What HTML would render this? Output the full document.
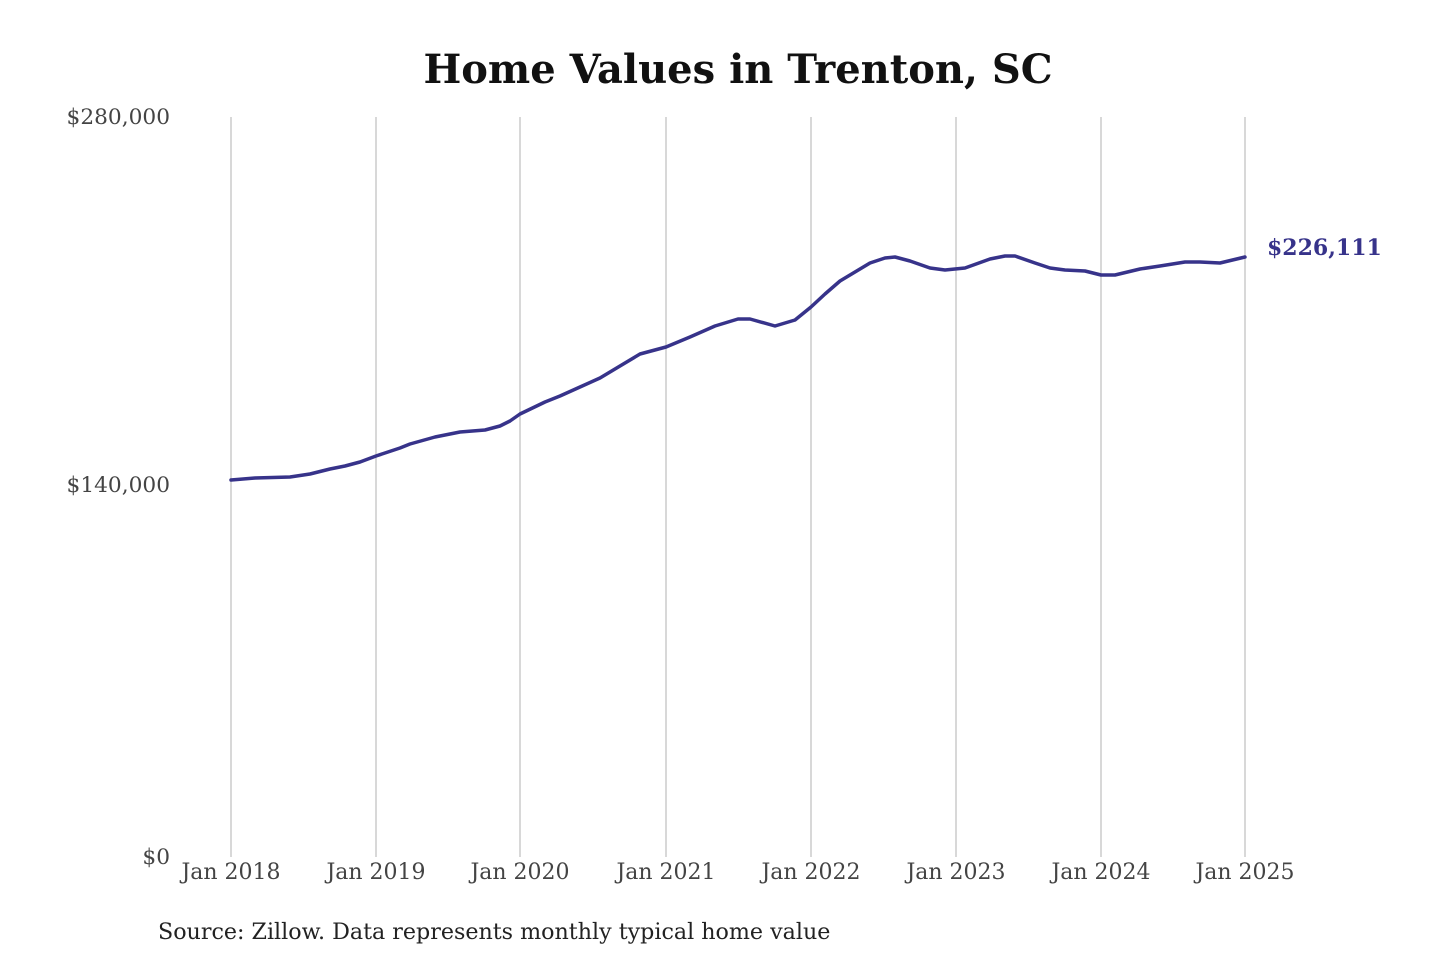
<!DOCTYPE html>
<html><head><meta charset="utf-8"><style>
html,body{margin:0;padding:0;background:#fff;}
svg{display:block}
text{font-family:"DejaVu Serif","Liberation Serif",serif;}
</style></head><body>
<svg width="1440" height="960" viewBox="0 0 1440 960" xmlns="http://www.w3.org/2000/svg">
<rect width="1440" height="960" fill="#fff"/>
<text x="738" y="83" text-anchor="middle" font-size="40" font-weight="bold" fill="#111">Home Values in Trenton, SC</text>
<g stroke="#bdbdbd" stroke-width="1.2">
<line x1="231" y1="117" x2="231" y2="857"/>
<line x1="376" y1="117" x2="376" y2="857"/>
<line x1="520" y1="117" x2="520" y2="857"/>
<line x1="666" y1="117" x2="666" y2="857"/>
<line x1="811" y1="117" x2="811" y2="857"/>
<line x1="956" y1="117" x2="956" y2="857"/>
<line x1="1101" y1="117" x2="1101" y2="857"/>
<line x1="1245" y1="117" x2="1245" y2="857"/>
</g>
<g font-size="21.7" fill="#444" text-anchor="end">
<text x="170" y="124">$280,000</text>
<text x="170" y="492">$140,000</text>
<text x="170" y="864">$0</text>
</g>
<g font-size="22" fill="#444" text-anchor="middle">
<text x="231" y="879">Jan 2018</text>
<text x="376" y="879">Jan 2019</text>
<text x="520" y="879">Jan 2020</text>
<text x="666" y="879">Jan 2021</text>
<text x="811" y="879">Jan 2022</text>
<text x="956" y="879">Jan 2023</text>
<text x="1101" y="879">Jan 2024</text>
<text x="1245" y="879">Jan 2025</text>
</g>
<polyline fill="none" stroke="#37338a" stroke-width="3.5" stroke-linejoin="round" stroke-linecap="round" points="231,480 255,478 290,477 310,474 330,469 345,466 360,462 376,456 400,448 410,444 435,437 460,432 485,430 500,426 510,421 520,414 545,402 560,396 580,387 600,378 620,366 640,354 666,347 690,337 715,326 738,319 750,319 775,326 795,320 811,307 825,294 840,281 855,272 870,263 885,258 895,257 910,261 930,268 945,270 965,268 990,259 1005,256 1015,256 1035,263 1050,268 1065,270 1085,271 1101,275 1115,275 1140,269 1160,266 1185,262 1200,262 1220,263 1245,257"/>
<text x="1267" y="255" font-size="22" font-weight="bold" fill="#37338a">$226,111</text>
<text x="158" y="939" font-size="22.2" fill="#222">Source: Zillow. Data represents monthly typical home value</text>
</svg>
</body></html>
